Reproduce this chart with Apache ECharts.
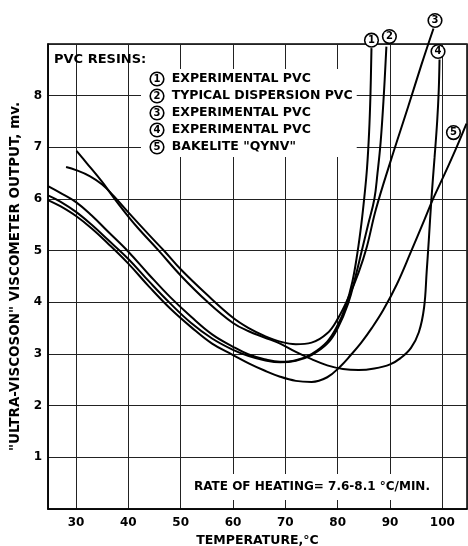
<!DOCTYPE html>
<html>
<head>
<meta charset="utf-8">
<script src="https://cdn.jsdelivr.net/npm/echarts@6/dist/echarts.min.js"></script>
<style>
  html, body { margin: 0; padding: 0; background: #fff; }
  #chart { width: 468px; height: 546px; }
</style>
</head>
<body>
<div id="chart"></div>
<script>
// temperature (°C) / viscometer output (mv)
var temp1 = [24.65, 27, 30, 33, 36, 40, 44, 48, 52, 56, 60, 63, 66, 69, 72, 75, 78, 80, 81.5, 82.8, 83.8, 84.5, 85.1, 85.6, 86.0, 86.25, 86.45];
var mv1   = [6.25, 6.12, 5.94, 5.68, 5.38, 4.98, 4.53, 4.1, 3.72, 3.38, 3.14, 2.99, 2.9, 2.85, 2.88, 3.0, 3.24, 3.56, 3.92, 4.4, 4.98, 5.5, 6.05, 6.6, 7.3, 8.0, 8.92];

var temp2 = [24.65, 27, 30, 33, 36, 40, 44, 48, 52, 56, 60, 63, 66, 69, 72, 75, 78, 80, 82, 83.4, 84.6, 85.8, 87.0, 87.6, 88.2, 88.8, 89.3];
var mv2   = [6.07, 5.95, 5.75, 5.5, 5.22, 4.84, 4.4, 3.98, 3.6, 3.3, 3.08, 2.96, 2.88, 2.84, 2.87, 2.98, 3.2, 3.5, 3.98, 4.5, 5.0, 5.5, 6.0, 6.5, 7.1, 8.0, 8.95];

var temp3 = [28.1, 30, 32.7, 35, 37.1, 40, 44, 47, 50, 55, 60, 63, 66, 69, 72, 75, 78, 80, 82, 84, 85.5, 87.3, 90, 93.5, 96, 98.3];
var mv3   = [6.62, 6.56, 6.44, 6.28, 6.07, 5.74, 5.3, 4.98, 4.64, 4.15, 3.7, 3.5, 3.35, 3.24, 3.19, 3.22, 3.4, 3.68, 4.08, 4.58, 5.05, 5.8, 6.7, 7.8, 8.6, 9.3];

var temp4 = [30.1, 32, 35, 37.1, 40, 42, 45.8, 50, 55, 60, 63, 66, 69, 72, 75, 78, 81, 84, 87, 90, 92, 94, 95.5, 96.5, 97.0, 97.4, 97.9, 98.5, 99.0, 99.3, 99.45];
var mv4   = [6.93, 6.7, 6.33, 6.04, 5.66, 5.42, 5.0, 4.52, 4.02, 3.6, 3.44, 3.32, 3.2, 3.04, 2.9, 2.78, 2.71, 2.69, 2.72, 2.8, 2.92, 3.12, 3.42, 3.9, 4.6, 5.2, 6.0, 6.8, 7.5, 8.1, 8.7];

var temp5 = [24.65, 27, 30, 33, 36, 40, 44, 48, 52, 56, 60, 63, 66, 69, 72, 75, 78, 80.4, 82.5, 84.5, 86.5, 88.7, 91.3, 94, 96.5, 98.3, 100.5, 102.7, 104.6];
var mv5   = [5.98, 5.86, 5.67, 5.43, 5.15, 4.75, 4.3, 3.88, 3.52, 3.2, 2.98, 2.82, 2.68, 2.56, 2.48, 2.46, 2.55, 2.75, 2.98, 3.22, 3.5, 3.85, 4.35, 4.98, 5.58, 6.02, 6.5, 7.0, 7.46];

var resinIds   = ['1', '2', '3', '4', '5'];
var resinNames = ['EXPERIMENTAL PVC', 'TYPICAL DISPERSION PVC', 'EXPERIMENTAL PVC', 'EXPERIMENTAL PVC', 'BAKELITE "QYNV"'];

var curves = [[temp1, mv1], [temp2, mv2], [temp3, mv3], [temp4, mv4], [temp5, mv5]];
// where the circled number sits relative to the curve end
var labelOffsets = [[0, -8], [3, -10], [1.5, -8], [-1.5, -8], [-13, 9]];

var FONT = 'DejaVu Sans';
var circle = {
  width: 12, height: 12, lineHeight: 12, borderRadius: 8,
  borderColor: '#000', borderWidth: 1.6, backgroundColor: '#fff',
  align: 'center', fontSize: 10, fontWeight: 'bold', fontFamily: FONT, color: '#000'
};

var myChart = echarts.init(document.getElementById('chart'));
myChart.setOption({
  animation: false,
  backgroundColor: '#fff',
  title: [{
    text: 'PVC RESINS:',
    left: 54, top: 53, padding: 0,
    textStyle: { fontFamily: FONT, fontWeight: 'bold', fontSize: 13, color: '#000' }
  }, {
    text: 'RATE OF HEATING= 7.6-8.1 °C/MIN.',
    left: 190, top: 474, padding: [7, 4],
    backgroundColor: '#fff',
    textStyle: { fontFamily: FONT, fontWeight: 'bold', fontSize: 12, color: '#000' }
  }],
  legend: {
    orient: 'vertical',
    left: 141, top: 69,
    padding: [2, 4],
    itemGap: 1,
    itemWidth: 0, itemHeight: 0,
    selectedMode: false,
    backgroundColor: '#fff',
    data: resinIds,
    formatter: function (name) {
      return '{n|' + name + '}  ' + resinNames[resinIds.indexOf(name)];
    },
    textStyle: {
      fontFamily: FONT, fontWeight: 'bold', fontSize: 12.5, color: '#000', lineHeight: 16,
      rich: { n: circle }
    }
  },
  grid: {
    left: 48, right: 1, top: 44, bottom: 37,
    outerBoundsMode: 'none',
    show: true, borderColor: '#000', borderWidth: 1.5
  },
  xAxis: {
    type: 'value',
    min: 24.65, max: 104.7,
    splitNumber: 8, minInterval: 10, maxInterval: 10,
    name: 'TEMPERATURE,°C',
    nameLocation: 'middle', nameGap: 25,
    nameTextStyle: { fontFamily: FONT, fontWeight: 'bold', fontSize: 12.5, color: '#000' },
    axisLine: { lineStyle: { color: '#000', width: 1.5 } },
    axisTick: { show: false },
    axisLabel: {
      showMinLabel: false, showMaxLabel: false, margin: 8,
      fontFamily: FONT, fontWeight: 'bold', fontSize: 12, color: '#000'
    },
    splitLine: { lineStyle: { color: '#222', width: 1 } }
  },
  yAxis: {
    type: 'value',
    min: 0, max: 9, interval: 1,
    name: '"ULTRA-VISCOSON" VISCOMETER OUTPUT, mv.',
    nameLocation: 'middle', nameGap: 23,
    nameTextStyle: { fontFamily: FONT, fontWeight: 'bold', fontSize: 13.5, color: '#000' },
    axisLine: { lineStyle: { color: '#000', width: 1.5 } },
    axisTick: { show: false },
    axisLabel: {
      showMinLabel: false, showMaxLabel: false, margin: 6,
      fontFamily: FONT, fontWeight: 'bold', fontSize: 12, color: '#000'
    },
    splitLine: { lineStyle: { color: '#222', width: 1 } }
  },
  series: curves.map(function (c, i) {
    return {
      name: resinIds[i],
      type: 'line',
      data: c[0].map(function (t, k) { return [t, c[1][k]]; }),
      smooth: 0.4,
      showSymbol: false,
      clip: false,
      silent: true,
      itemStyle: { color: '#000' },
      lineStyle: { color: '#000', width: 2 },
      endLabel: {
        show: true,
        distance: 0,
        offset: labelOffsets[i],
        align: 'center',
        verticalAlign: 'middle',
        formatter: function () { return '{n|' + resinIds[i] + '}'; },
        rich: { n: circle }
      }
    };
  })
});
</script>
</body>
</html>
